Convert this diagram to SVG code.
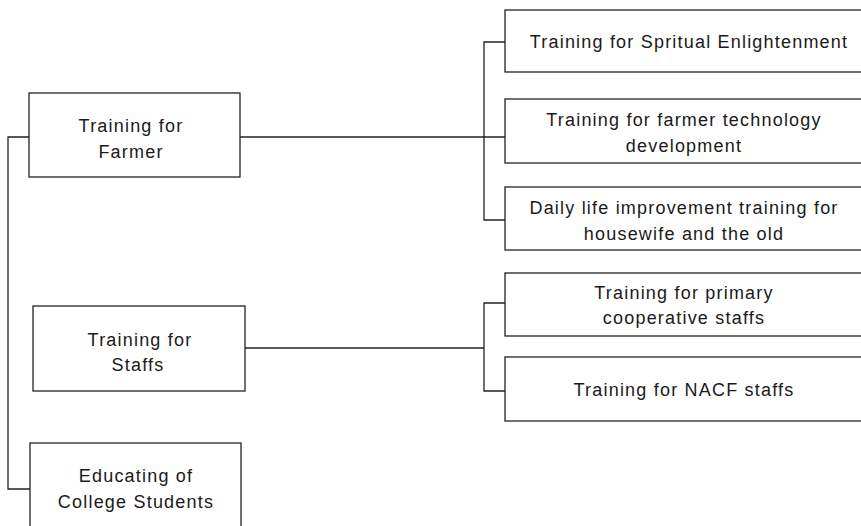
<svg xmlns="http://www.w3.org/2000/svg" width="861" height="526" viewBox="0 0 861 526">
<style>
rect{fill:#fff;stroke:#222;stroke-width:1.3}
text{font-family:"Liberation Sans",Arial,sans-serif;font-size:18px;letter-spacing:1.2px;fill:#1a1a1a;text-anchor:middle}
.c{fill:none;stroke:#222;stroke-width:1.3}
</style>
<rect width="861" height="526" style="fill:#fff;stroke:none"/>
<g id="connectors">
<path class="c" d="M29,137 H8 V489 H30"/>
<path class="c" d="M240,137 H505"/>
<path class="c" d="M505,42 H484 V220 H505"/>
<path class="c" d="M245,348 H484"/>
<path class="c" d="M505,303 H484 V391 H505"/>
</g>
<g id="farmer"><rect x="29" y="93" width="211" height="84"/><text x="131" y="132">Training for</text><text x="131" y="158">Farmer</text></g>
<g id="staffs"><rect x="33" y="306" width="212" height="85"/><text x="140" y="346">Training for</text><text x="138" y="371">Staffs</text></g>
<g id="college"><rect x="30" y="443" width="211" height="90"/><text x="136" y="482">Educating of</text><text x="136" y="508">College Students</text></g>
<g id="spiritual"><rect x="505" y="10" width="360" height="62"/><text x="689" y="48">Training for Spritual Enlightenment</text></g>
<g id="tech"><rect x="505" y="99" width="360" height="64"/><text x="684" y="126">Training for farmer technology</text><text x="684" y="152">development</text></g>
<g id="daily"><rect x="505" y="187" width="360" height="63"/><text x="684" y="214">Daily life improvement training for</text><text x="684" y="240">housewife and the old</text></g>
<g id="primary"><rect x="505" y="273" width="360" height="63"/><text x="684" y="299">Training for primary</text><text x="684" y="324">cooperative staffs</text></g>
<g id="nacf"><rect x="505" y="357" width="360" height="64"/><text x="684" y="396">Training for NACF staffs</text></g>
</svg>
